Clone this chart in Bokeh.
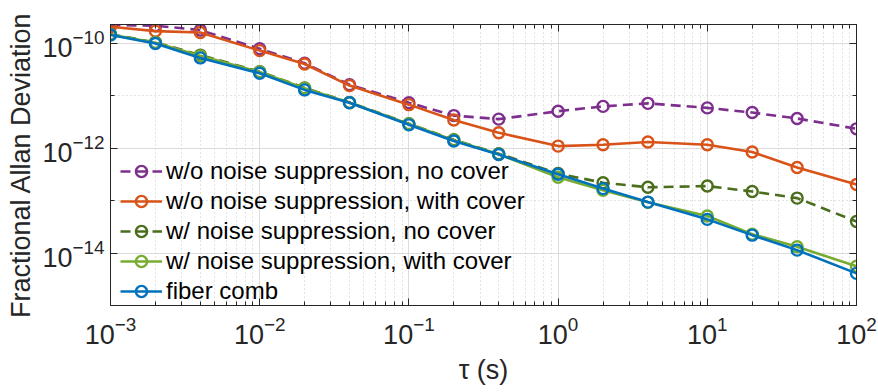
from bokeh.plotting import figure
from bokeh.models import FixedTicker, LogAxis, Range1d
from bokeh.embed import file_html
from bokeh.resources import INLINE

# ---- data ----
tau = [1e-3, 2e-3, 4e-3, 1e-2, 2e-2, 4e-2, 1e-1, 2e-1, 4e-1, 1, 2, 4, 10, 20, 40, 100]

wo_nocover = [2.24e-10, 2.18e-10, 1.80e-10, 7.9e-11, 4.2e-11, 1.63e-11, 7.4e-12, 4.2e-12,
              3.6e-12, 5.1e-12, 6.3e-12, 7.2e-12, 5.9e-12, 4.8e-12, 3.7e-12, 2.35e-12]
wo_cover = [2.08e-10, 1.72e-10, 1.62e-10, 7.3e-11, 4.06e-11, 1.57e-11, 6.8e-12, 3.46e-12,
            1.98e-12, 1.10e-12, 1.17e-12, 1.32e-12, 1.17e-12, 8.5e-13, 4.3e-13, 2.03e-13]
w_nocover = [1.50e-10, 1.05e-10, 6.0e-11, 2.9e-11, 1.42e-11, 7.5e-12, 2.95e-12, 1.45e-12,
             7.9e-13, 3.3e-13, 2.2e-13, 1.8e-13, 1.9e-13, 1.5e-13, 1.12e-13, 4.0e-14]
w_cover = [1.48e-10, 1.03e-10, 5.8e-11, 2.85e-11, 1.40e-11, 7.4e-12, 2.9e-12, 1.42e-12,
           7.7e-13, 2.8e-13, 1.58e-13, 9.3e-14, 5.1e-14, 2.3e-14, 1.32e-14, 5.6e-15]
fiber_comb = [1.45e-10, 1.0e-10, 5.3e-11, 2.7e-11, 1.3e-11, 7.4e-12, 2.8e-12, 1.38e-12,
              7.6e-13, 3.2e-13, 1.7e-13, 9.4e-14, 4.4e-14, 2.2e-14, 1.14e-14, 4.1e-15]

series_labels = ["w/o noise suppression, no cover",
                 "w/o noise suppression, with cover",
                 "w/ noise suppression, no cover",
                 "w/ noise suppression, with cover",
                 "fiber comb"]

x_major = [1e-3, 1e-2, 1e-1, 1e0, 1e1, 1e2]
x_minor = [m * 10.0 ** e for e in range(-3, 2) for m in range(2, 10)]
y_major = [1e-14, 1e-12, 1e-10]
y_minor = [1e-15, 1e-13, 1e-11]

FONT = "Liberation Sans"
TXT = "#262626"

p = figure(width=878, height=392, x_axis_type="log", y_axis_type="log",
           x_range=Range1d(1e-3, 1e2), y_range=Range1d(1e-15, 2.3e-10),
           output_backend="svg", toolbar_location=None,
           min_border_left=110, min_border_right=22, min_border_top=24, min_border_bottom=87)
p.background_fill_color = "white"
p.border_fill_color = "white"
p.outline_line_color = "#262626"
p.outline_line_width = 1

xt = FixedTicker(ticks=x_major, minor_ticks=x_minor)
yt = FixedTicker(ticks=y_major, minor_ticks=y_minor)

def style_axis(ax, labels=True):
    ax.axis_line_color = "#262626"
    ax.major_tick_line_color = "#262626"
    ax.minor_tick_line_color = "#262626"
    ax.major_tick_in = 7
    ax.major_tick_out = 0
    ax.minor_tick_in = 4
    ax.minor_tick_out = 0
    if labels:
        ax.major_label_text_font = FONT
        ax.major_label_text_font_size = "27px"
        ax.major_label_text_color = TXT
    else:
        ax.major_label_text_font_size = "0px"
        ax.major_label_text_alpha = 0

p.xaxis.ticker = xt
p.yaxis.ticker = yt
style_axis(p.xaxis[0])
style_axis(p.yaxis[0])
p.xaxis.major_label_standoff = 10
p.yaxis.major_label_standoff = 6

p.xaxis.axis_label = "τ (s)"
p.yaxis.axis_label = "Fractional Allan Deviation"
for ax in (p.xaxis[0], p.yaxis[0]):
    ax.axis_label_text_font = FONT
    ax.axis_label_text_font_size = "27px"
    ax.axis_label_text_font_style = "normal"
    ax.axis_label_text_color = TXT
p.xaxis.axis_label_standoff = 8
p.yaxis.axis_label_standoff = 3

top = LogAxis(ticker=FixedTicker(ticks=x_major, minor_ticks=x_minor))
style_axis(top, labels=False)
p.add_layout(top, "above")
right = LogAxis(ticker=FixedTicker(ticks=y_major, minor_ticks=y_minor))
style_axis(right, labels=False)
p.add_layout(right, "right")

for g in (p.xgrid[0], p.ygrid[0]):
    g.grid_line_color = "#dcdcdc"
    g.grid_line_width = 1
    g.minor_grid_line_color = "#c8c8c8"
    g.minor_grid_line_dash = "1 3"
    g.minor_grid_line_width = 1

styles = [
    ("#7E2F8E", "10 6"),
    ("#D95319", "solid"),
    ("#4A6E1C", "10 6"),
    ("#77AC30", "solid"),
    ("#0072BD", "solid"),
]
data = [wo_nocover, wo_cover, w_nocover, w_cover, fiber_comb]

for ys, lab, (col, dash) in zip(data, series_labels, styles):
    p.line(tau, ys, line_color=col, line_width=2.6, line_dash=dash, legend_label=lab)
    p.scatter(tau, ys, marker="circle", size=11, fill_color=None,
              line_color=col, line_width=2.4, legend_label=lab)

lg = p.legend[0]
lg.location = (10, 0)
lg.background_fill_alpha = 0
lg.border_line_alpha = 0
lg.label_text_font = FONT
lg.label_text_font_size = "24px"
lg.label_text_color = "black"
lg.glyph_width = 42
lg.glyph_height = 28
lg.label_height = 28
lg.spacing = 2
lg.padding = 0
lg.margin = 0
lg.label_standoff = 4

open("out.html", "w").write(file_html(p, INLINE))
